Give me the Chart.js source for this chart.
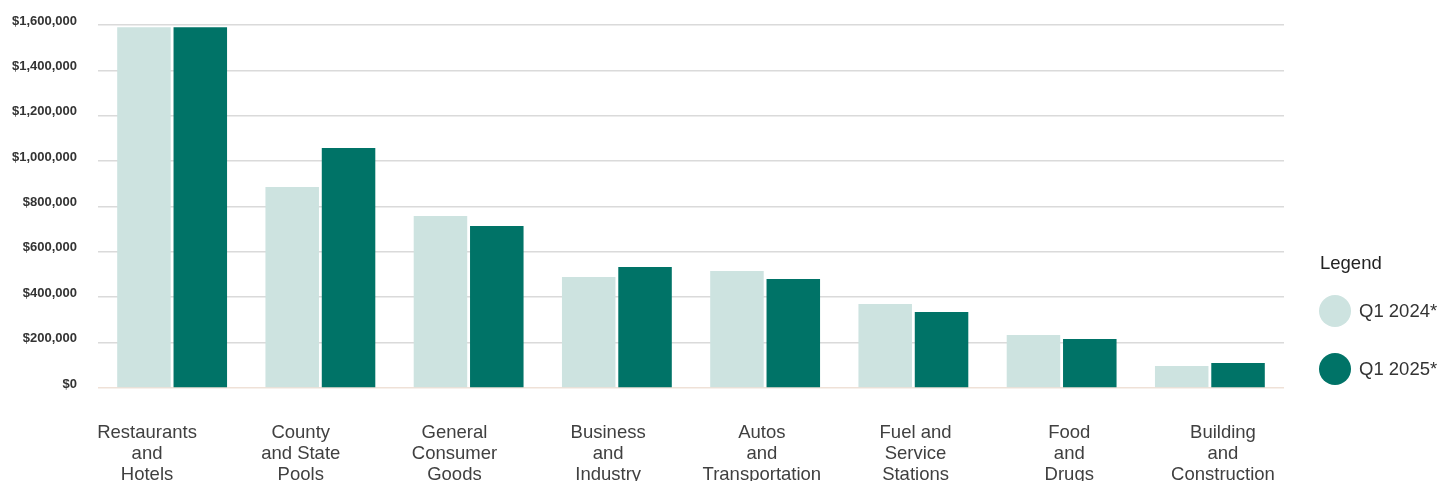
<!DOCTYPE html>
<html>
<head>
<meta charset="utf-8">
<script src="https://cdn.jsdelivr.net/npm/chart.js@4/dist/chart.umd.min.js"></script>
<style>
  html, body { margin: 0; padding: 0; background: #ffffff; }
  #wrap { position: relative; width: 1438px; height: 481px; overflow: hidden; }
  #chart { position: absolute; left: 0; top: 0; }
  #legend { position: absolute; left: 1319px; top: 252px; font-family: "Liberation Sans", Arial, sans-serif; }
  #legend .title { font-size: 18.5px; color: #222; height: 22px; line-height: 22px; margin-left: 1px; }
  #legend .item { display: flex; align-items: center; height: 32px; }
  #legend .dot { width: 32px; height: 32px; border-radius: 50%; margin-right: 8px; }
  #legend .lbl { font-size: 18.5px; color: #333; }
</style>
</head>
<body>
<div id="wrap">
  <canvas id="chart" width="1438" height="481"></canvas>
  <div id="legend"></div>
</div>
<script>
const categories = [
  ["Restaurants", "and", "Hotels"],
  ["County", "and State", "Pools"],
  ["General", "Consumer", "Goods"],
  ["Business", "and", "Industry"],
  ["Autos", "and", "Transportation"],
  ["Fuel and", "Service", "Stations"],
  ["Food", "and", "Drugs"],
  ["Building", "and", "Construction"]
];
const seriesNames = ["Q1 2024*", "Q1 2025*"];
const q1_2024 = [1590000, 886000, 758000, 489000, 516000, 370000, 234000, 97000];
const q1_2025 = [1590000, 1058000, 714000, 533000, 480000, 335000, 216000, 110000];
const seriesColors = ["#cde3e0", "#007367"];
const yTicks = [0, 200000, 400000, 600000, 800000, 1000000, 1200000, 1400000, 1600000];

const fmt = v => "$" + v.toLocaleString("en-US");

const chart = new Chart(document.getElementById("chart"), {
  type: "bar",
  data: {
    labels: categories,
    datasets: [
      { label: seriesNames[0], data: q1_2024, backgroundColor: seriesColors[0] },
      { label: seriesNames[1], data: q1_2025, backgroundColor: seriesColors[1] }
    ]
  },
  options: {
    responsive: false,
    animation: false,
    layout: { padding: { left: 0, right: 154, top: 25, bottom: 0 } },
    datasets: { bar: { categoryPercentage: 0.76, barPercentage: 0.95 } },
    plugins: { legend: { display: false }, tooltip: { enabled: false } },
    scales: {
      x: {
        display: false
      },
      // label axis: the category names are spread slightly wider than the bar groups
      xLabels: {
        type: "linear",
        position: "bottom",
        offset: false,
        min: -0.319,
        max: 7.397,
        afterFit: axis => { axis.height = 93; axis.paddingTop = 0; axis.paddingBottom = 0; },
        afterBuildTicks: axis => { axis.ticks = categories.map((c, i) => ({ value: i })); },
        grid: { display: false, drawTicks: false, offset: false },
        border: { display: false },
        ticks: {
          color: "#404040",
          padding: 34,
          maxRotation: 0,
          minRotation: 0,
          autoSkip: false,
          callback: (v) => categories[v],
          font: { family: "'Liberation Sans', Arial, sans-serif", size: 18.5, lineHeight: "21px" }
        }
      },
      y: {
        min: 0,
        max: 1600000,
        afterFit: axis => { axis.width = 98; axis.paddingTop = 0; axis.paddingBottom = 0; },
        afterBuildTicks: axis => { axis.ticks = yTicks.map(v => ({ value: v })); },
        grid: {
          drawTicks: false,
          lineWidth: 1.6,
          color: ctx => (ctx.tick && ctx.tick.value === 0) ? "#efe1d7" : "#dadada"
        },
        border: { display: false },
        ticks: {
          color: "#333",
          padding: 21,
          labelOffset: -4,
          callback: v => fmt(v),
          font: { family: "'Liberation Sans Narrow', 'Arial Narrow', 'Liberation Sans', sans-serif", size: 13, weight: "bold" }
        }
      }
    }
  }
});

const legend = document.getElementById("legend");
const t = document.createElement("div");
t.className = "title";
t.textContent = "Legend";
legend.appendChild(t);
seriesNames.forEach((name, i) => {
  const it = document.createElement("div");
  it.className = "item";
  it.style.marginTop = i === 0 ? "21px" : "26px";
  const d = document.createElement("div");
  d.className = "dot";
  d.style.background = seriesColors[i];
  const l = document.createElement("div");
  l.className = "lbl";
  l.textContent = name;
  it.appendChild(d);
  it.appendChild(l);
  legend.appendChild(it);
});
</script>
</body>
</html>
